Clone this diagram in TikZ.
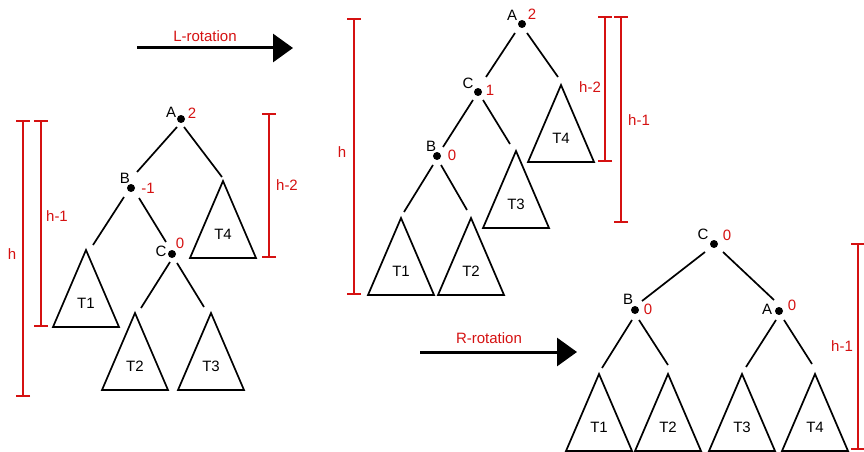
\documentclass[tikz,border=0pt]{standalone}
\usepackage{fontspec}
\setmainfont{Liberation Sans}
\usetikzlibrary{arrows.meta}
\definecolor{hred}{RGB}{213,17,17}
\newcommand\subtree[4]{% name, apex x, apex y, label
  \draw[tri] (#2,#3) -- ++(-33,77) -- ++(66,0) -- cycle;
  \node[lbl] (#1) at (#2,#3+53) {#4};}
\begin{document}
\begin{tikzpicture}[x=1pt,y=-1pt,
  ln/.style={line width=1.7pt, black},
  tri/.style={line width=1.7pt, black, line join=miter},
  dotn/.style={circle, fill=black, inner sep=0pt, minimum size=8pt},
  lbl/.style={font=\fontsize{15}{17}\selectfont, inner sep=0pt},
  rlbl/.style={lbl, text=hred},
  hbar/.style={line width=1.7pt, hred, {Bar[width=14pt]}-{Bar[width=14pt]}},
  rot/.style={line width=3pt, -{Triangle[length=20pt,width=28pt]}}]
\useasboundingbox (0,0) rectangle (864,452);

% ---------- rotation arrows ----------
\coordinate (l0) at (137,48); \coordinate (l1) at (293,48);
\draw[rot] (l0) -- (l1);
\node[rlbl] (lrot) at (205,36) {L-rotation};
\coordinate (r0) at (420,352); \coordinate (r1) at (577,352);
\draw[rot] (r0) -- (r1);
\node[rlbl] (rrot) at (489,338) {R-rotation};

% ---------- left tree ----------
\node[dotn] (lA) at (181,119) {};
\node[lbl] (lAn) at (171,112) {A}; \node[rlbl] (lAb) at (192,113) {2};
\node[dotn] (lB) at (131,188) {};
\node[lbl] (lBn) at (125,178) {B}; \node[rlbl] (lBb) at (148,188) {-1};
\node[dotn] (lC) at (172,254) {};
\node[lbl] (lCn) at (161,251) {C}; \node[rlbl] (lCb) at (180,243) {0};
\coordinate (la1) at (177,127); \coordinate (la2) at (137,172);
\coordinate (la3) at (184,127); \coordinate (la4) at (222,177);
\coordinate (lb1) at (124,197); \coordinate (lb2) at (93,245);
\coordinate (lb3) at (139,198); \coordinate (lb4) at (166,242);
\coordinate (lc1) at (170,262); \coordinate (lc2) at (141,308);
\coordinate (lc3) at (177,263); \coordinate (lc4) at (204,307);
\draw[ln] (la1) -- (la2); \draw[ln] (la3) -- (la4);
\draw[ln] (lb1) -- (lb2); \draw[ln] (lb3) -- (lb4);
\draw[ln] (lc1) -- (lc2); \draw[ln] (lc3) -- (lc4);
\subtree{lT1}{86}{250}{T1}
\subtree{lT2}{135}{313}{T2}
\subtree{lT3}{211}{313}{T3}
\subtree{lT4}{223}{181}{T4}
\coordinate (lh0) at (23,120); \coordinate (lh1) at (23,397);
\draw[hbar] (lh0) -- (lh1); \node[rlbl] (lh) at (12,254) {h};
\coordinate (lg0) at (41,120); \coordinate (lg1) at (41,327);
\draw[hbar] (lg0) -- (lg1); \node[rlbl] (lg) at (57,216) {h-1};
\coordinate (lk0) at (269,113); \coordinate (lk1) at (269,258);
\draw[hbar] (lk0) -- (lk1); \node[rlbl] (lk) at (287,185) {h-2};

% ---------- middle tree ----------
\node[dotn] (mA) at (522,24) {};
\node[lbl] (mAn) at (512,15) {A}; \node[rlbl] (mAb) at (532,14) {2};
\node[dotn] (mC) at (478,92) {};
\node[lbl] (mCn) at (468,83) {C}; \node[rlbl] (mCb) at (490,90) {1};
\node[dotn] (mB) at (437,156) {};
\node[lbl] (mBn) at (431,146) {B}; \node[rlbl] (mBb) at (452,155) {0};
\coordinate (ma1) at (515,33); \coordinate (ma2) at (486,77);
\coordinate (ma3) at (527,33); \coordinate (ma4) at (558,77);
\coordinate (mc1) at (473,100); \coordinate (mc2) at (443,147);
\coordinate (mc3) at (483,100); \coordinate (mc4) at (510,144);
\coordinate (mb1) at (433,165); \coordinate (mb2) at (404,212);
\coordinate (mb3) at (441,165); \coordinate (mb4) at (467,210);
\draw[ln] (ma1) -- (ma2); \draw[ln] (ma3) -- (ma4);
\draw[ln] (mc1) -- (mc2); \draw[ln] (mc3) -- (mc4);
\draw[ln] (mb1) -- (mb2); \draw[ln] (mb3) -- (mb4);
\subtree{mT1}{401}{218}{T1}
\subtree{mT2}{471}{218}{T2}
\subtree{mT3}{516}{151}{T3}
\subtree{mT4}{561}{85}{T4}
\coordinate (mh0) at (354,18); \coordinate (mh1) at (354,295);
\draw[hbar] (mh0) -- (mh1); \node[rlbl] (mh) at (342,152) {h};
\coordinate (mk0) at (605,16); \coordinate (mk1) at (605,162);
\draw[hbar] (mk0) -- (mk1); \node[rlbl] (mk) at (590,87) {h-2};
\coordinate (mg0) at (621,16); \coordinate (mg1) at (621,223);
\draw[hbar] (mg0) -- (mg1); \node[rlbl] (mg) at (639,120) {h-1};

% ---------- right tree ----------
\node[dotn] (rC) at (714,244) {};
\node[lbl] (rCn) at (703,234) {C}; \node[rlbl] (rCb) at (727,235) {0};
\node[dotn] (rB) at (635,310) {};
\node[lbl] (rBn) at (628,299) {B}; \node[rlbl] (rBb) at (648,309) {0};
\node[dotn] (rA) at (779,311) {};
\node[lbl] (rAn) at (767,309) {A}; \node[rlbl] (rAb) at (792,305) {0};
\coordinate (rc1) at (705,252); \coordinate (rc2) at (642,301);
\coordinate (rc3) at (723,252); \coordinate (rc4) at (774,300);
\coordinate (rb1) at (632,320); \coordinate (rb2) at (602,368);
\coordinate (rb3) at (639,320); \coordinate (rb4) at (668,365);
\coordinate (ra1) at (776,320); \coordinate (ra2) at (746,367);
\coordinate (ra3) at (784,320); \coordinate (ra4) at (812,364);
\draw[ln] (rc1) -- (rc2); \draw[ln] (rc3) -- (rc4);
\draw[ln] (rb1) -- (rb2); \draw[ln] (rb3) -- (rb4);
\draw[ln] (ra1) -- (ra2); \draw[ln] (ra3) -- (ra4);
\subtree{rT1}{599}{374}{T1}
\subtree{rT2}{668}{374}{T2}
\subtree{rT3}{742}{374}{T3}
\subtree{rT4}{815}{374}{T4}
\coordinate (rg0) at (858,243); \coordinate (rg1) at (858,450);
\draw[hbar] (rg0) -- (rg1); \node[rlbl] (rg) at (842,346) {h-1};
\end{tikzpicture}
\end{document}
